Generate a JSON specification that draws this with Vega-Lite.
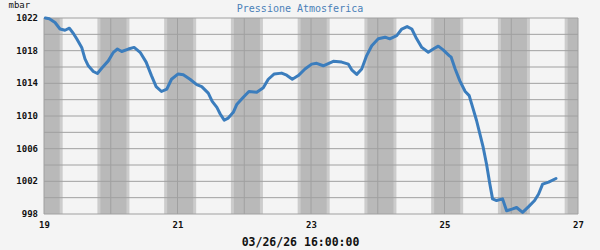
{
  "$schema": "https://vega.github.io/schema/vega-lite/v6.json",
  "width": 534,
  "height": 196,
  "autosize": "none",
  "padding": {"left": 44, "top": 18, "right": 22, "bottom": 36},
  "background": "#f4f4f4",
  "view": {"stroke": null},
  "title": {
    "text": "Pressione Atmosferica",
    "font": "DejaVu Sans Mono",
    "fontSize": 10,
    "fontWeight": "normal",
    "color": "#4a80b8",
    "anchor": "middle",
    "frame": "group",
    "baseline": "alphabetic",
    "dx": -11,
    "dy": 22,
    "offset": 0
  },
  "datasets": {
    "pressure": [
      {"t": 19.02, "p": 1022.0}, {"t": 19.08, "p": 1021.9}, {"t": 19.165, "p": 1021.45}, {"t": 19.24, "p": 1020.65},
      {"t": 19.315, "p": 1020.5}, {"t": 19.38, "p": 1020.75}, {"t": 19.44, "p": 1020.1}, {"t": 19.49, "p": 1019.45},
      {"t": 19.565, "p": 1018.4}, {"t": 19.614, "p": 1017.0}, {"t": 19.664, "p": 1016.15}, {"t": 19.739, "p": 1015.45},
      {"t": 19.8, "p": 1015.2}, {"t": 19.864, "p": 1015.85}, {"t": 19.963, "p": 1016.75}, {"t": 20.04, "p": 1017.8},
      {"t": 20.1, "p": 1018.2}, {"t": 20.164, "p": 1017.9}, {"t": 20.263, "p": 1018.2}, {"t": 20.35, "p": 1018.4},
      {"t": 20.44, "p": 1017.8}, {"t": 20.53, "p": 1016.6}, {"t": 20.61, "p": 1014.95}, {"t": 20.68, "p": 1013.6},
      {"t": 20.76, "p": 1013.0}, {"t": 20.84, "p": 1013.3}, {"t": 20.91, "p": 1014.5}, {"t": 21.01, "p": 1015.15},
      {"t": 21.087, "p": 1015.05}, {"t": 21.187, "p": 1014.5}, {"t": 21.288, "p": 1013.85}, {"t": 21.363, "p": 1013.6},
      {"t": 21.461, "p": 1012.8}, {"t": 21.52, "p": 1011.8}, {"t": 21.59, "p": 1011.05}, {"t": 21.64, "p": 1010.25},
      {"t": 21.7, "p": 1009.5}, {"t": 21.76, "p": 1009.75}, {"t": 21.836, "p": 1010.45}, {"t": 21.887, "p": 1011.4},
      {"t": 21.986, "p": 1012.3}, {"t": 22.07, "p": 1013.0}, {"t": 22.187, "p": 1012.9}, {"t": 22.285, "p": 1013.45},
      {"t": 22.36, "p": 1014.5}, {"t": 22.45, "p": 1015.15}, {"t": 22.56, "p": 1015.25}, {"t": 22.636, "p": 1015.0},
      {"t": 22.72, "p": 1014.5}, {"t": 22.81, "p": 1014.95}, {"t": 22.91, "p": 1015.75}, {"t": 23.01, "p": 1016.35},
      {"t": 23.085, "p": 1016.45}, {"t": 23.184, "p": 1016.15}, {"t": 23.334, "p": 1016.7}, {"t": 23.46, "p": 1016.6},
      {"t": 23.56, "p": 1016.35}, {"t": 23.61, "p": 1015.65}, {"t": 23.685, "p": 1015.1}, {"t": 23.76, "p": 1015.75},
      {"t": 23.834, "p": 1017.4}, {"t": 23.91, "p": 1018.6}, {"t": 24.008, "p": 1019.45}, {"t": 24.11, "p": 1019.65},
      {"t": 24.18, "p": 1019.45}, {"t": 24.284, "p": 1019.85}, {"t": 24.36, "p": 1020.65}, {"t": 24.44, "p": 1020.95},
      {"t": 24.51, "p": 1020.65}, {"t": 24.57, "p": 1019.65}, {"t": 24.66, "p": 1018.4}, {"t": 24.757, "p": 1017.8},
      {"t": 24.832, "p": 1018.2}, {"t": 24.907, "p": 1018.55}, {"t": 24.98, "p": 1018.1}, {"t": 25.07, "p": 1017.4},
      {"t": 25.1, "p": 1017.2}, {"t": 25.16, "p": 1015.75}, {"t": 25.23, "p": 1014.3}, {"t": 25.31, "p": 1013.0},
      {"t": 25.37, "p": 1012.5}, {"t": 25.43, "p": 1010.85}, {"t": 25.48, "p": 1009.45}, {"t": 25.53, "p": 1007.8},
      {"t": 25.58, "p": 1006.15}, {"t": 25.63, "p": 1004.1}, {"t": 25.68, "p": 1001.65}, {"t": 25.72, "p": 999.85},
      {"t": 25.78, "p": 999.65}, {"t": 25.87, "p": 999.85}, {"t": 25.93, "p": 998.4}, {"t": 26.01, "p": 998.6},
      {"t": 26.08, "p": 998.8}, {"t": 26.17, "p": 998.2}, {"t": 26.26, "p": 998.9}, {"t": 26.35, "p": 999.65},
      {"t": 26.41, "p": 1000.45}, {"t": 26.47, "p": 1001.65}, {"t": 26.56, "p": 1001.9}, {"t": 26.67, "p": 1002.35}
    ],
    "nights": [
      {"start": 18.8, "end": 19.28}, {"start": 19.8, "end": 20.28}, {"start": 20.8, "end": 21.28},
      {"start": 21.8, "end": 22.28}, {"start": 22.8, "end": 23.28}, {"start": 23.8, "end": 24.28},
      {"start": 24.8, "end": 25.28}, {"start": 25.8, "end": 26.28}, {"start": 26.8, "end": 27.28}
    ],
    "xgrid": [
      {"v": 19}, {"v": 20}, {"v": 21}, {"v": 22}, {"v": 23}, {"v": 24}, {"v": 25}, {"v": 26}, {"v": 27}
    ],
    "ygrid": [
      {"v": 998}, {"v": 1000}, {"v": 1002}, {"v": 1004}, {"v": 1006}, {"v": 1008}, {"v": 1010},
      {"v": 1012}, {"v": 1014}, {"v": 1016}, {"v": 1018}, {"v": 1020}, {"v": 1022}
    ],
    "ylabels": [
      {"v": 998, "label": "998"}, {"v": 1002, "label": "1002"}, {"v": 1006, "label": "1006"},
      {"v": 1010, "label": "1010"}, {"v": 1014, "label": "1014"}, {"v": 1018, "label": "1018"},
      {"v": 1022, "label": "1022"}
    ]
  },
  "layer": [
    {
      "mark": {"type": "rect", "fill": "#d9d9d9"},
      "encoding": {
        "x": {"datum": 18.341, "type": "quantitative", "scale": {"domain": [19, 27], "nice": false, "zero": false}},
        "x2": {"datum": 27.33},
        "y": {"datum": 1024.2, "type": "quantitative", "scale": {"domain": [998, 1022], "nice": false, "zero": false}},
        "y2": {"datum": 1022.735}
      }
    },
    {
      "mark": {"type": "rect", "fill": "#ffffff"},
      "encoding": {
        "x": {"datum": 18.341, "type": "quantitative", "scale": {"domain": [19, 27], "nice": false, "zero": false}},
        "x2": {"datum": 27.33},
        "y": {"datum": 1022.735, "type": "quantitative", "scale": {"domain": [998, 1022], "nice": false, "zero": false}},
        "y2": {"datum": 1022.49}
      }
    },
    {
      "mark": {"type": "rect", "fill": "#d3d3d3"},
      "encoding": {
        "x": {"datum": 18.94, "type": "quantitative", "scale": {"domain": [19, 27], "nice": false, "zero": false}},
        "x2": {"datum": 27.06},
        "y": {"datum": 997.51, "type": "quantitative", "scale": {"domain": [998, 1022], "nice": false, "zero": false}},
        "y2": {"datum": 1022.49}
      }
    },
    {
      "mark": {"type": "rect", "fill": "#dedede"},
      "encoding": {
        "x": {"datum": 19, "type": "quantitative", "scale": {"domain": [19, 27], "nice": false, "zero": false}},
        "x2": {"datum": 27},
        "y": {"datum": 998, "type": "quantitative", "scale": {"domain": [998, 1022], "nice": false, "zero": false}},
        "y2": {"datum": 1022}
      }
    },
    {
      "data": {"name": "nights"},
      "mark": {"type": "rect", "fill": "#cccccc", "clip": true},
      "encoding": {
        "x": {"field": "start", "type": "quantitative", "scale": {"domain": [19, 27], "nice": false, "zero": false}},
        "x2": {"field": "end"}
      }
    },
    {
      "data": {"name": "nights"},
      "mark": {"type": "rect", "fill": "#b9b9b9", "clip": true, "xOffset": 3, "x2Offset": -3},
      "encoding": {
        "x": {"field": "start", "type": "quantitative", "scale": {"domain": [19, 27], "nice": false, "zero": false}},
        "x2": {"field": "end"}
      }
    },
    {
      "data": {"name": "xgrid"},
      "mark": {"type": "rule", "color": "#a0a0a0", "strokeWidth": 1},
      "encoding": {
        "x": {"field": "v", "type": "quantitative", "scale": {"domain": [19, 27], "nice": false, "zero": false}}
      }
    },
    {
      "data": {"name": "ygrid"},
      "mark": {"type": "rule", "color": "#a0a0a0", "strokeWidth": 1},
      "encoding": {
        "y": {"field": "v", "type": "quantitative", "scale": {"domain": [998, 1022], "nice": false, "zero": false}}
      }
    },
    {
      "data": {"name": "ylabels"},
      "mark": {"type": "text", "align": "right", "baseline": "middle", "font": "DejaVu Sans Mono", "fontWeight": "bold", "fontSize": 9, "color": "#111111"},
      "encoding": {
        "x": {"datum": 18.91, "type": "quantitative", "scale": {"domain": [19, 27], "nice": false, "zero": false}},
        "y": {"field": "v", "type": "quantitative", "scale": {"domain": [998, 1022], "nice": false, "zero": false}},
        "text": {"field": "label", "type": "nominal"}
      }
    },
    {
      "data": {"name": "pressure"},
      "mark": {"type": "line", "color": "#3b7dbd", "strokeWidth": 3, "strokeJoin": "round", "strokeCap": "round"},
      "encoding": {
        "x": {
          "field": "t", "type": "quantitative",
          "scale": {"domain": [19, 27], "nice": false, "zero": false},
          "axis": {
            "values": [19, 21, 23, 25, 27],
            "format": "d",
            "labelFlush": false,
            "labelOverlap": false,
            "grid": false, "domain": false, "ticks": false,
            "labelPadding": 6,
            "labelFont": "DejaVu Sans Mono", "labelFontWeight": "bold", "labelFontSize": 9, "labelColor": "#111111",
            "title": "03/26/26 16:00:00",
            "titleX": 256, "titleY": 31, "titleBaseline": "alphabetic",
            "titleFont": "DejaVu Sans Mono", "titleFontSize": 11.5, "titleFontWeight": "bold", "titleColor": "#111111"
          }
        },
        "y": {
          "field": "p", "type": "quantitative",
          "scale": {"domain": [998, 1022], "nice": false, "zero": false},
          "axis": {
            "labels": false,
            "grid": false, "domain": false, "ticks": false,
            "title": "mbar",
            "titleAngle": 0, "titleAlign": "left", "titleBaseline": "alphabetic",
            "titleX": -36, "titleY": -11,
            "titleFont": "DejaVu Sans Mono", "titleFontSize": 9, "titleFontWeight": "normal", "titleColor": "#111111"
          }
        }
      }
    }
  ]
}
